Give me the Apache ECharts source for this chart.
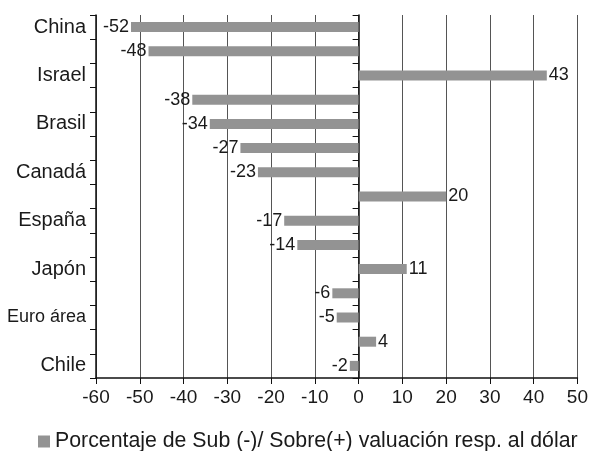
<!DOCTYPE html>
<html><head><meta charset="utf-8">
<script src="https://cdn.jsdelivr.net/npm/echarts@6/dist/echarts.min.js"></script>
<style>html,body{margin:0;padding:0;background:#fff}#c{width:591px;height:451px}</style>
</head><body><div id="c"></div>
<script>
const categories = ['China','','Israel','','Brasil','','Canadá','','España','','Japón','','Euro área','','Chile'];
const values = [-52,-48,43,-38,-34,-27,-23,20,-17,-14,11,-6,-5,4,-2];
const xTicks = {min:-60, max:50, interval:10};
const seriesName = 'Porcentaje de Sub (-)/ Sobre(+) valuación resp. al dólar';

const FONT = '"Liberation Sans", Arial, sans-serif';
const chart = echarts.init(document.getElementById('c'));
chart.setOption({
  animation:false,
  textStyle:{fontFamily:FONT},
  grid:{left:96,right:9,top:15,bottom:73,containLabel:false},
  xAxis:{type:'value',min:xTicks.min,max:xTicks.max,interval:xTicks.interval,
    axisLine:{show:true,onZero:false,lineStyle:{color:'#111',width:1.5}},
    axisTick:{show:true,length:6,lineStyle:{color:'#111'}},
    axisLabel:{color:'#1a1a1a',fontSize:19,fontFamily:FONT,margin:10},
    splitLine:{show:true,lineStyle:{color:'#555',width:1}}},
  yAxis:[
    {type:'category',data:categories,inverse:true,position:'left',
     axisLine:{show:true,onZero:false,lineStyle:{color:'#111',width:1.5}},
     axisTick:{show:true,interval:0,length:6,lineStyle:{color:'#111'}},
     axisLabel:{interval:0,color:'#1a1a1a',fontSize:20,fontFamily:FONT,margin:10,
       formatter:v=>v==='Euro área'?'{s|'+v+'}':v,
       rich:{s:{fontSize:18,color:'#1a1a1a',fontFamily:FONT}}},
     splitLine:{show:false}},
    {type:'category',data:categories,inverse:true,position:'right',
     axisLine:{show:true,onZero:true,lineStyle:{color:'#111',width:1.5}},
     axisTick:{show:true,inside:true,interval:0,length:6,lineStyle:{color:'#111'}},
     axisLabel:{show:false},splitLine:{show:false}}
  ],
  legend:{top:426,left:33,itemWidth:12,itemHeight:12,itemGap:6,icon:'rect',
    textStyle:{fontSize:21.3,color:'#1a1a1a',fontFamily:FONT},data:[seriesName]},
  series:[{name:seriesName,type:'bar',yAxisIndex:0,barWidth:10,
    itemStyle:{color:'#939393'},
    data:values.map(v=>({value:v,label:{position:v<0?'left':'right'}})),
    label:{show:true,distance:2,fontSize:18,color:'#1a1a1a',fontFamily:FONT}}]
});
</script></body></html>
